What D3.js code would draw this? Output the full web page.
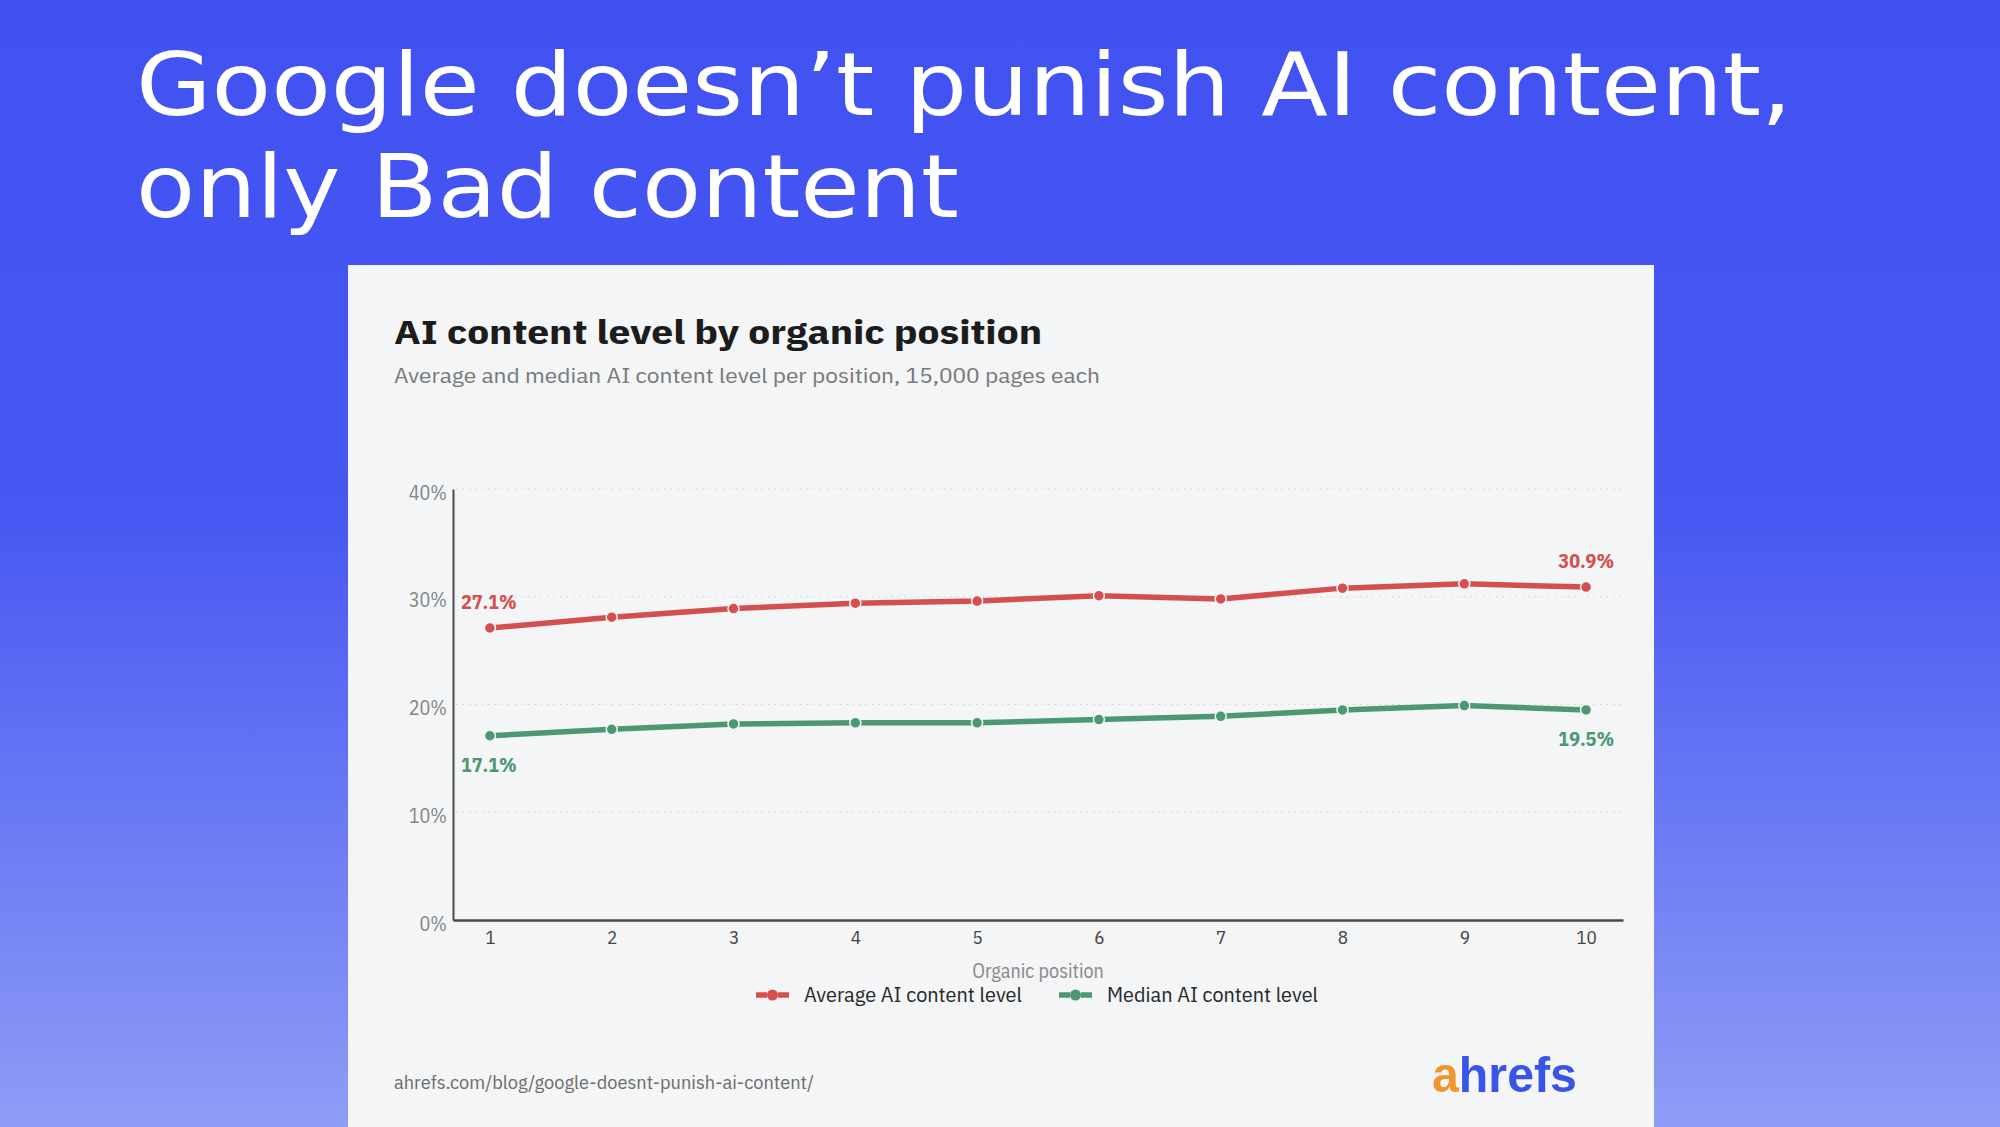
<!DOCTYPE html>
<html>
<head>
<meta charset="utf-8">
<script src="https://cdn.jsdelivr.net/npm/d3@7"></script>
<style>
html,body{margin:0;padding:0;overflow:hidden;background:#4152f2;}
svg{display:block;}
</style>
</head>
<body>
<svg id="c" width="2000" height="1127"></svg>
<script>
// ---- data ----
const positions = [1,2,3,4,5,6,7,8,9,10];
const averageAI = [27.1,28.1,28.9,29.4,29.6,30.1,29.8,30.8,31.2,30.9];
const medianAI  = [17.1,17.7,18.2,18.3,18.3,18.6,18.9,19.5,19.9,19.5];
const yTicks = [0,10,20,30,40];
const seriesNames = ["Average AI content level","Median AI content level"];
const seriesColors = ["#d64f4f","#4c9873"];
const headline = ["Google doesn\u2019t punish AI content,","only Bad content"];
const chartTitle = "AI content level by organic position";
const chartSubtitle = "Average and median AI content level per position, 15,000 pages each";
const xTitle = "Organic position";
const sourceText = "ahrefs.com/blog/google-doesnt-punish-ai-content/";

const svg = d3.select("#c");
const W = 2000, H = 1127;
const FONT = "'IBM Plex Sans Condensed','Roboto','Liberation Sans',sans-serif";

// background gradient
const defs = svg.append("defs");
const g = defs.append("linearGradient").attr("id","bg").attr("x1",0).attr("y1",0).attr("x2",0).attr("y2",1);
g.append("stop").attr("offset","0%").attr("stop-color","#4152f2");
g.append("stop").attr("offset","45%").attr("stop-color","#4657f2");
g.append("stop").attr("offset","100%").attr("stop-color","#8f9cf6");
svg.append("rect").attr("width",W).attr("height",H).attr("fill","url(#bg)");

// headline
const hl = svg.append("g");
headline.forEach((t,i)=>{
  const el = hl.append("text").attr("x",136).attr("y",[115,217][i])
    .attr("fill","#ffffff").attr("font-family","'DejaVu Sans',sans-serif")
    .attr("font-size",88).text(t);
  el.attr("textLength",[1656,823][i]).attr("lengthAdjust","spacingAndGlyphs");
});

// card
svg.append("rect").attr("x",348).attr("y",265).attr("width",1306).attr("height",900).attr("fill","#f3f5f7");

svg.append("text").attr("x",394).attr("y",344).attr("font-family",FONT).attr("font-weight",700)
  .attr("font-size",33).attr("fill","#1c1c1c").text(chartTitle)
  .attr("textLength",648).attr("lengthAdjust","spacingAndGlyphs");
svg.append("text").attr("x",394).attr("y",383).attr("font-family",FONT)
  .attr("font-size",21).attr("fill","#7a7a7a").text(chartSubtitle)
  .attr("textLength",706).attr("lengthAdjust","spacingAndGlyphs");

// scales
const x = d3.scalePoint().domain(positions).range([453,1623]).padding(0.303);
const y = d3.scaleLinear().domain([0,40]).range([920,489]);

// gridlines
svg.append("g").selectAll("line").data(yTicks.filter(d=>d>0)).join("line")
  .attr("x1",456).attr("x2",1622).attr("y1",d=>y(d)).attr("y2",d=>y(d))
  .attr("stroke","#cfd3d8").attr("stroke-width",1.2).attr("stroke-dasharray","1.5,5");

// y axis
const yAxis = svg.append("g").attr("transform","translate(453,0)")
  .call(d3.axisLeft(y).tickValues(yTicks).tickSize(0).tickPadding(6).tickFormat(d=>d+"%"));
yAxis.select(".domain").attr("stroke","#4a4a4a").attr("stroke-width",2);
yAxis.selectAll("text").attr("font-family",FONT).attr("font-size",20).attr("fill","#858585").attr("dy","0.5em");

// x axis
const xAxis = svg.append("g").attr("transform","translate(0,920)")
  .call(d3.axisBottom(x).tickSize(0).tickPadding(11));
xAxis.select(".domain").attr("stroke","#4a4a4a").attr("stroke-width",2.5);
xAxis.selectAll("text").attr("font-family",FONT).attr("font-size",19).attr("fill","#444");

svg.append("text").attr("x",1038).attr("y",978).attr("text-anchor","middle")
  .attr("font-family",FONT).attr("font-size",20).attr("fill","#8a8a8a").text(xTitle);

// lines
const seriesData = [averageAI, medianAI];
const line = d3.line().x((d,i)=>x(positions[i])).y(d=>y(d));
seriesData.forEach((vals,s)=>{
  svg.append("path").datum(vals).attr("d",line).attr("fill","none")
    .attr("stroke",seriesColors[s]).attr("stroke-width",5.5).attr("stroke-linejoin","round");
  svg.append("g").selectAll("circle").data(vals).join("circle")
    .attr("cx",(d,i)=>x(positions[i])).attr("cy",d=>y(d)).attr("r",5.5)
    .attr("fill",seriesColors[s]).attr("stroke","#f3f5f7").attr("stroke-width",1.5);
});

// end labels
function valLabel(v,xp,yp,anchor,color){
  svg.append("text").attr("x",xp).attr("y",yp).attr("text-anchor",anchor)
    .attr("font-family",FONT).attr("font-weight",700).attr("font-size",20)
    .attr("fill",color).text(v.toFixed(1)+"%");
}
const last = positions.length-1;
valLabel(averageAI[0], x(positions[0])-29, y(averageAI[0])-19, "start", seriesColors[0]);
valLabel(medianAI[0], x(positions[0])-29, y(medianAI[0])+36, "start", seriesColors[1]);
valLabel(averageAI[last], x(positions[last])+28, y(averageAI[last])-19, "end", seriesColors[0]);
valLabel(medianAI[last], x(positions[last])+28, y(medianAI[last])+36, "end", seriesColors[1]);

// legend
const legendX = [756,1059];
const legendW = [218,211];
seriesNames.forEach((n,s)=>{
  const lg = svg.append("g").attr("transform",`translate(${legendX[s]},995)`);
  lg.append("line").attr("x1",0).attr("x2",33).attr("y1",0).attr("y2",0)
    .attr("stroke",seriesColors[s]).attr("stroke-width",5.5).attr("stroke-dasharray","11,11,11");
  lg.append("circle").attr("cx",16.5).attr("cy",0).attr("r",5.5).attr("fill",seriesColors[s]);
  lg.append("text").attr("x",48).attr("y",7).attr("font-family",FONT).attr("font-size",20)
    .attr("fill","#2a2a2a").text(n).attr("textLength",legendW[s]).attr("lengthAdjust","spacingAndGlyphs");
});

// footer
svg.append("text").attr("x",394).attr("y",1089).attr("font-family",FONT).attr("font-size",18.5)
  .attr("fill","#6e6e6e").text(sourceText).attr("textLength",420).attr("lengthAdjust","spacingAndGlyphs");

const logo = svg.append("text").attr("x",1432).attr("y",1092).attr("font-family","'Liberation Sans',Arial,sans-serif")
  .attr("font-weight",700).attr("font-size",50).attr("textLength",145).attr("lengthAdjust","spacingAndGlyphs");
logo.append("tspan").attr("fill","#f0962e").text("a");
logo.append("tspan").attr("fill","#3a54e8").text("hrefs");
</script>
</body>
</html>
